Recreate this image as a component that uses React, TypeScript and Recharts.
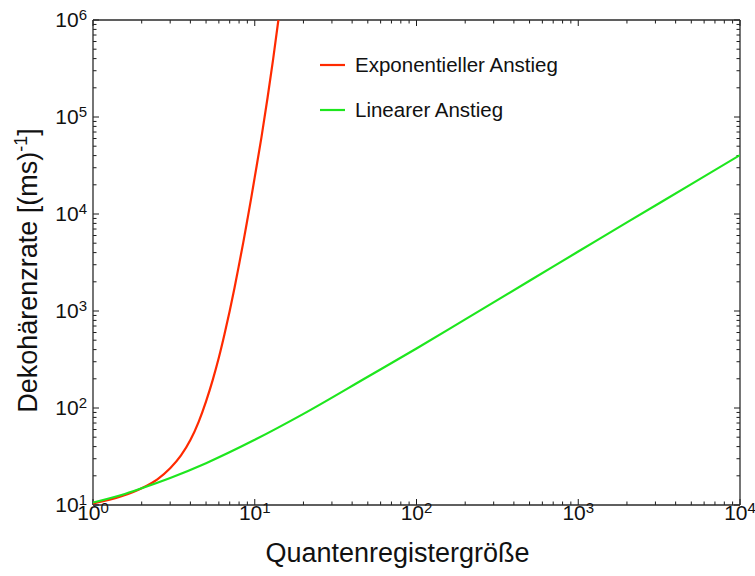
import React from "react";
import { LineChart, Line, XAxis, YAxis, Legend, Label, ReferenceLine } from "recharts";

// ---- data ----
const redX = [1, 1.5, 2, 2.5, 3, 3.5, 4, 4.5, 5, 5.5, 6, 6.5, 7, 7.5, 8, 8.5, 9, 9.5, 10, 11, 12, 13, 14, 14.5];
const redY = [10.4, 12.3, 14.9, 18.4, 23.9, 32.4, 46.7, 72, 117, 195, 331, 575, 1000, 1740, 3020, 5130, 8710, 14500, 24000, 61700, 158000, 398000, 1000000, 1580000];
const greenX = [1, 1.5, 2, 3, 5, 10, 20, 50, 100, 200, 500, 1000, 2000, 5000, 10000];
const greenY = [10.6, 12.7, 14.9, 19, 27, 47, 87, 210, 410, 820, 2050, 4100, 8200, 20300, 40500];

const xMajorTicks = [1, 10, 100, 1000, 10000];
const yMajorTicks = [10, 100, 1000, 10000, 100000, 1000000];
const seriesNames = ["Exponentieller Anstieg", "Linearer Anstieg"];
const xAxisTitle = "Quantenregistergröße";
const yAxisTitle = "Dekohärenzrate [(ms)";
const yAxisTitleExp = "-1";

const redData = redX.map((x, i) => ({ x, y: redY[i] }));
const greenData = greenX.map((x, i) => ({ x, y: greenY[i] }));

const withMinors = (majors: number[]) => {
  const out: number[] = [];
  majors.forEach((m, i) => {
    out.push(m);
    if (i < majors.length - 1) for (let k = 2; k <= 9; k++) out.push(k * m);
  });
  return out;
};
const xTicks = withMinors(xMajorTicks);
const yTicks = withMinors(yMajorTicks);

const isMajor = (v: number) => Math.abs(Math.log10(v) - Math.round(Math.log10(v))) < 1e-9;
const expOf = (v: number) => String(Math.round(Math.log10(v)));

// layout
const W = 755;
const H = 576;
const M_TOP = 20;
const M_RIGHT = 15;
const X_AXIS_H = 71;
const Y_AXIS_W = 93;
const AX_OFF = 8; // default tickSize (6) + tickMargin (2)
const X_MIN = xMajorTicks[0];
const X_MAX = xMajorTicks[xMajorTicks.length - 1];
const Y_MIN = yMajorTicks[0];
const Y_MAX = yMajorTicks[yMajorTicks.length - 1];
const PLOT_W = W - M_RIGHT - Y_AXIS_W;
const PLOT_H = H - M_TOP - X_AXIS_H;
const PX_PER_DEC_X = PLOT_W / Math.log10(X_MAX / X_MIN);
const PX_PER_DEC_Y = PLOT_H / Math.log10(Y_MAX / Y_MIN);
// factor in data space that corresponds to a tick length in pixels on a log axis
const xFactor = (px: number) => Math.pow(10, px / PX_PER_DEC_X);
const yFactor = (px: number) => Math.pow(10, px / PX_PER_DEC_Y);

const FONT = "'Liberation Sans', Arial, Helvetica, sans-serif";
const TICK_COLOR = "#1a1a1a";
const FRAME_COLOR = "#2a2a2a";
const MAJ = 6;
const MIN = 3.5;

const BottomLabel = (props: any) => {
  const { x, y, payload } = props;
  const v = payload.value;
  if (!isMajor(v)) return <g />;
  const ay = y - AX_OFF;
  return (
    <text x={x} y={ay + 15} textAnchor="middle" fontFamily={FONT} fontSize={21} fill="#111">
      10<tspan fontSize={15} dy={-7}>{expOf(v)}</tspan>
    </text>
  );
};

const LeftLabel = (props: any) => {
  const { x, y, payload } = props;
  const v = payload.value;
  if (!isMajor(v)) return <g />;
  const ax = x + AX_OFF;
  return (
    <text x={ax - 6} y={y + 7} textAnchor="end" fontFamily={FONT} fontSize={21} fill="#111">
      10<tspan fontSize={15} dy={-7}>{expOf(v)}</tspan>
    </text>
  );
};

const YTitle = (props: any) => {
  const vb = props.viewBox || { x: 0, y: 20, width: 93, height: 485 };
  const cx = vb.x + 37;
  const cy = vb.y + vb.height / 2 + 8;
  return (
    <text x={cx} y={cy} transform={`rotate(-90, ${cx}, ${cy})`} textAnchor="middle" fontFamily={FONT} fontSize={27} fill="#111">
      {yAxisTitle}
      <tspan fontSize={18} dy={-10}>{yAxisTitleExp}</tspan>
      <tspan dy={10}>]</tspan>
    </text>
  );
};

const XTitle = (props: any) => {
  const vb = props.viewBox || { x: 93, y: 505, width: 647, height: 71 };
  return (
    <text x={vb.x + vb.width / 2 - 19} y={vb.y + 57} textAnchor="middle" fontFamily={FONT} fontSize={27} fill="#111">
      {xAxisTitle}
    </text>
  );
};

const renderLegend = (props: any) => {
  const { payload } = props;
  return (
    <div style={{ fontFamily: FONT }}>
      {(payload || []).map((p: any, i: number) => (
        <div key={i} style={{ display: "flex", alignItems: "center", height: 45 }}>
          <svg width={25} height={4} style={{ display: "block" }}>
            <line x1={0} x2={25} y1={2} y2={2} stroke={p.color} strokeWidth={2.2} />
          </svg>
          <span style={{ marginLeft: 10, fontSize: 20.5, color: "#111", whiteSpace: "nowrap" }}>{p.value}</span>
        </div>
      ))}
    </div>
  );
};

const tickSegments: any[] = [];
xTicks.forEach((v) => {
  const len = isMajor(v) ? MAJ : MIN;
  tickSegments.push([{ x: v, y: Y_MIN }, { x: v, y: Y_MIN * yFactor(len) }]);
  tickSegments.push([{ x: v, y: Y_MAX / yFactor(len) }, { x: v, y: Y_MAX }]);
});
yTicks.forEach((v) => {
  const len = isMajor(v) ? MAJ : MIN;
  tickSegments.push([{ x: X_MIN, y: v }, { x: X_MIN * xFactor(len), y: v }]);
  tickSegments.push([{ x: X_MAX / xFactor(len), y: v }, { x: X_MAX, y: v }]);
});

export default function App() {
  return (
    <div style={{ position: "absolute", left: 0, top: 0, width: W, height: H, background: "#fff" }}>
      <LineChart width={W} height={H} margin={{ top: M_TOP, right: M_RIGHT, bottom: 0, left: 0 }}>
        <XAxis
          dataKey="x"
          type="number"
          scale="log"
          domain={[X_MIN, X_MAX]}
          allowDataOverflow
          ticks={xTicks}
          interval={0}
          tick={<BottomLabel />}
          tickLine={false}
          axisLine={false}
          height={X_AXIS_H}
        >
          <Label content={<XTitle />} />
        </XAxis>
        <YAxis
          dataKey="y"
          type="number"
          scale="log"
          domain={[Y_MIN, Y_MAX]}
          allowDataOverflow
          ticks={yTicks}
          interval={0}
          tick={<LeftLabel />}
          tickLine={false}
          axisLine={false}
          width={Y_AXIS_W}
        >
          <Label content={<YTitle />} />
        </YAxis>
        {tickSegments.map((seg, i) => (
          <ReferenceLine key={"tk" + i} segment={seg} stroke={TICK_COLOR} strokeWidth={1} ifOverflow="visible" />
        ))}
        <ReferenceLine x={X_MIN} stroke={FRAME_COLOR} strokeWidth={1.3} />
        <ReferenceLine x={X_MAX} stroke={FRAME_COLOR} strokeWidth={1.3} />
        <ReferenceLine y={Y_MIN} stroke={FRAME_COLOR} strokeWidth={1.3} />
        <ReferenceLine y={Y_MAX} stroke={FRAME_COLOR} strokeWidth={1.3} />
        <Legend
          layout="horizontal"
          verticalAlign="middle"
          align="center"
          content={renderLegend}
          wrapperStyle={{ position: "absolute", left: 320, top: 42, width: 280 }}
        />
        <Line
          data={redData}
          dataKey="y"
          name={seriesNames[0]}
          type="monotone"
          stroke="#ff2a00"
          strokeWidth={2.2}
          dot={false}
          activeDot={false}
          isAnimationActive={false}
        />
        <Line
          data={greenData}
          dataKey="y"
          name={seriesNames[1]}
          type="monotone"
          stroke="#1ee61e"
          strokeWidth={2.2}
          dot={false}
          activeDot={false}
          isAnimationActive={false}
        />
      </LineChart>
    </div>
  );
}
